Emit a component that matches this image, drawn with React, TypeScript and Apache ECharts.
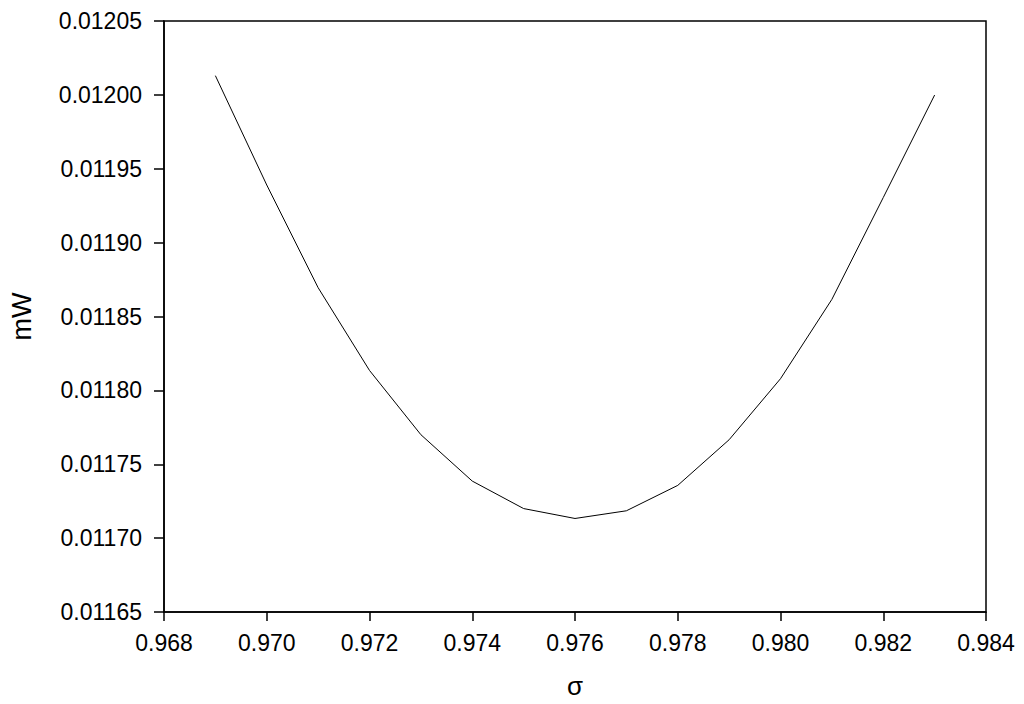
import React, { useEffect, useRef } from "react";
import * as echarts from "echarts";

const sigma = [0.969, 0.97, 0.971, 0.972, 0.973, 0.974, 0.975, 0.976, 0.977, 0.978, 0.979, 0.98, 0.981, 0.982, 0.983];
const mW = [0.012013, 0.011939, 0.0118695, 0.0118135, 0.01177, 0.0117386, 0.01172, 0.0117133, 0.0117185, 0.0117357, 0.0117666, 0.0118079, 0.0118616, 0.0119305, 0.0119999];

const xTickDecimals = 3;
const yTickDecimals = 5;

export default function App() {
  const ref = useRef<HTMLDivElement>(null);
  useEffect(() => {
    document.body.style.margin = "0";
    const chart = echarts.init(ref.current!, null, { renderer: "svg" });
    const font = "'Liberation Sans', Arial, sans-serif";
    chart.setOption({
      animation: false,
      backgroundColor: "#ffffff",
      grid: {
        left: 161,
        right: 38,
        top: 21,
        bottom: 87,
        show: true,
        borderColor: "#000",
        borderWidth: 1.5,
        backgroundColor: "transparent",
      },
      xAxis: {
        type: "value",
        min: 0.968,
        max: 0.984,
        interval: 0.002,
        name: "σ",
        nameLocation: "middle",
        nameGap: 61,
        nameTextStyle: { fontFamily: font, fontSize: 26, color: "#000" },
        axisLine: { show: true, lineStyle: { color: "#000", width: 1.5 } },
        axisTick: { show: true, inside: false, length: 9, lineStyle: { color: "#000", width: 1.5 } },
        axisLabel: {
          margin: 19,
          fontFamily: font,
          fontSize: 23,
          color: "#000",
          formatter: (v: number) => v.toFixed(xTickDecimals),
        },
        splitLine: { show: false },
      },
      yAxis: {
        type: "value",
        min: 0.01165,
        max: 0.01205,
        interval: 0.00005,
        name: "mW",
        nameLocation: "middle",
        nameGap: 129,
        nameRotate: 90,
        nameTextStyle: { fontFamily: font, fontSize: 27, color: "#000" },
        axisLine: { show: true, lineStyle: { color: "#000", width: 1.5 } },
        axisTick: { show: true, inside: false, length: 10, lineStyle: { color: "#000", width: 1.5 } },
        axisLabel: {
          margin: 22,
          fontFamily: font,
          fontSize: 23,
          color: "#000",
          formatter: (v: number) => v.toFixed(yTickDecimals),
        },
        splitLine: { show: false },
      },
      series: [
        {
          type: "line",
          data: sigma.map((s, i) => [s, mW[i]]),
          showSymbol: false,
          symbol: "none",
          lineStyle: { color: "#000", width: 1 },
        },
      ],
    });
    return () => chart.dispose();
  }, []);
  return <div ref={ref} style={{ width: 1024, height: 704 }} />;
}
